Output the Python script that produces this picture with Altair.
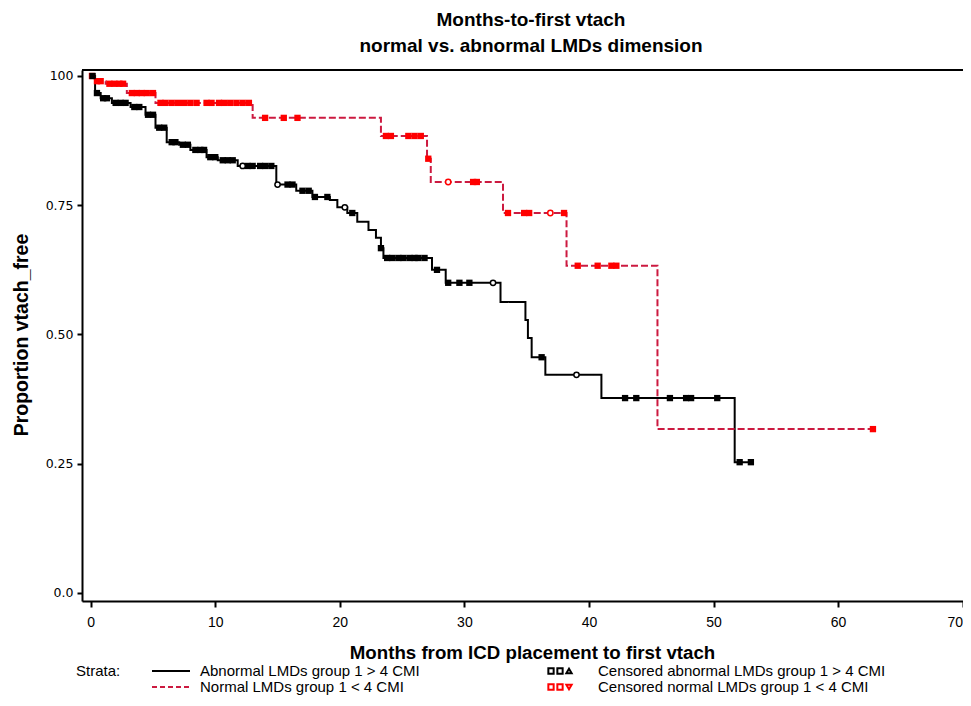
import altair as alt
import pandas as pd
import numpy as np

# ---------------- text ----------------
title_lines = ["Months-to-first vtach", "normal vs. abnormal LMDs dimension"]
x_title = "Months from ICD placement to first vtach"
y_title = "Proportion vtach_free"
x_ticks = [0, 10, 20, 30, 40, 50, 60, 70]
y_ticks = [0.0, 0.25, 0.5, 0.75, 1.0]
strata_label = "Strata:"
groups = ["Abnormal LMDs group 1 > 4 CMI", "Normal LMDs group 1 < 4 CMI"]
censor_labels = ["Censored abnormal LMDs group 1 > 4 CMI", "Censored normal LMDs group 1 < 4 CMI"]

# ---------------- Kaplan-Meier steps ----------------
abn_time = [0, 0.35, 0.8, 1.7, 3.2, 4.4, 5.2, 6.1, 7.1, 8.0, 9.3, 10.2, 11.8, 14.9, 16.5,
            17.8, 19.2, 19.8, 20.6, 21.4, 22.3, 22.9, 23.3, 23.5, 27.4, 28.5, 32.9, 34.9,
            35.1, 35.4, 36.5, 41.0, 51.7, 53.1]
abn_surv = [1.0, 0.967, 0.957, 0.948, 0.94, 0.925, 0.90, 0.872, 0.867, 0.857, 0.843, 0.837,
            0.826, 0.79, 0.778, 0.766, 0.76, 0.746, 0.735, 0.718, 0.702, 0.687, 0.667, 0.648,
            0.625, 0.60, 0.563, 0.528, 0.493, 0.456, 0.422, 0.377, 0.253, 0.253]

nor_time = [0, 0.3, 1.2, 2.9, 5.2, 13.0, 23.3, 27.0, 27.3, 33.1, 38.2, 45.5, 62.8]
nor_surv = [1.0, 0.99, 0.985, 0.967, 0.948, 0.919, 0.884, 0.84, 0.795, 0.735, 0.633, 0.317, 0.317]

# censoring times
abn_cens = [0.15, 0.5, 1.0, 1.3, 2.0, 2.4, 2.8, 3.5, 3.9, 4.6, 5.0, 5.5, 5.9, 6.5, 6.8, 7.4,
            7.8, 8.4, 8.8, 9.1, 9.6, 10.0, 10.6, 11.0, 11.4, 12.6, 13.0, 13.6, 14.0, 14.5,
            15.8, 16.2, 17.0, 17.5, 18.0, 19.0, 21.0, 23.3, 23.8, 24.2, 24.7, 25.1, 25.6,
            26.0, 26.3, 26.8, 27.8, 28.7, 29.6, 30.4, 36.2, 42.9, 43.8, 46.5, 47.8, 48.2,
            50.3, 52.1, 53.0]
abn_cens_open = [12.2, 15.0, 20.4, 32.3, 39.0]
nor_cens = [0.1, 0.5, 0.8, 1.5, 1.9, 2.3, 2.6, 3.3, 3.7, 4.1, 4.5, 5.0, 5.6, 6.0, 6.5, 7.0,
            7.5, 8.0, 8.5, 9.3, 9.7, 10.3, 10.7, 11.2, 11.7, 12.2, 12.7, 14.0, 15.5, 16.6,
            23.7, 24.1, 25.5, 26.0, 26.5, 27.1, 30.7, 31.0, 33.5, 34.8, 35.2, 38.0, 39.1,
            40.7, 41.8, 42.2, 62.8]
nor_cens_open = [28.7, 36.9]

BLACK = "#000000"
LINE_RED = "#cc1a40"
MARK_RED = "#ff0000"
SANS = "Liberation Sans, Arial, sans-serif"
WIDE = "DejaVu Sans, Verdana, sans-serif"

W, H = 881, 531


def surv_at(times, survs, ts):
    t = np.asarray(times)
    s = np.asarray(survs)
    idx = np.searchsorted(t, np.asarray(ts), side="right") - 1
    return s[idx]


lines = pd.concat([
    pd.DataFrame({"group": groups[0], "time": abn_time, "surv": abn_surv}),
    pd.DataFrame({"group": groups[1], "time": nor_time, "surv": nor_surv}),
])

def cens_df(times, st, ss):
    return pd.DataFrame({"time": times, "surv": surv_at(st, ss, times)})

abn_c = cens_df(abn_cens, abn_time, abn_surv)
abn_co = cens_df(abn_cens_open, abn_time, abn_surv)
nor_c = cens_df(nor_cens, nor_time, nor_surv)
nor_co = cens_df(nor_cens_open, nor_time, nor_surv)

xscale = alt.Scale(domain=[-0.7, 70.03], nice=False, zero=False)
yscale = alt.Scale(domain=[-0.0155, 1.0116], nice=False, zero=False)

xaxis = alt.Axis(values=x_ticks, title=x_title, grid=False,
                 labelFont=SANS, labelFontSize=14, labelColor="black", labelPadding=8,
                 tickSize=6, tickWidth=2, tickColor="black",
                 domainColor="black", domainWidth=2,
                 titleFont=SANS, titleFontSize=18.7, titleFontWeight="bold", titleColor="black",
                 titleBaseline="alphabetic", titleY=57, titleX=450)
yaxis = alt.Axis(values=y_ticks, title=y_title, grid=False,
                 labelExpr="datum.value == 1 ? '100' : (datum.value == 0 ? '0.0' : format(datum.value, '.2f'))",
                 labelFont=WIDE, labelFontSize=12.5, labelColor="black", labelPadding=4,
                 tickSize=5, tickWidth=2, tickColor="black",
                 domainColor="black", domainWidth=2,
                 titleFont=SANS, titleFontSize=19.5, titleFontWeight="bold", titleColor="black",
                 titleBaseline="alphabetic", titleX=-55, titleY=H / 2 - 1, titleAngle=270)

line_layer = alt.Chart(lines).mark_line(interpolate="step-after", strokeWidth=2).encode(
    x=alt.X("time:Q", scale=xscale, axis=xaxis),
    y=alt.Y("surv:Q", scale=yscale, axis=yaxis),
    color=alt.Color("group:N", scale=alt.Scale(domain=groups, range=[BLACK, LINE_RED]), legend=None),
    strokeDash=alt.StrokeDash("group:N", scale=alt.Scale(domain=groups, range=[[1, 0], [7, 3]]), legend=None),
)

def sq(df, color):
    return alt.Chart(df).mark_square(size=40, color=color, opacity=1).encode(
        x=alt.X("time:Q", scale=xscale), y=alt.Y("surv:Q", scale=yscale))

def oc(df, color):
    return alt.Chart(df).mark_point(shape="circle", size=28, filled=True, fill="white",
                                    stroke=color, strokeWidth=1.5, opacity=1).encode(
        x=alt.X("time:Q", scale=xscale), y=alt.Y("surv:Q", scale=yscale))

frame_top = alt.Chart(pd.DataFrame({"a": [0]})).mark_rule(color="black", strokeWidth=2).encode(
    x=alt.value(0), x2=alt.value(W), y=alt.value(0))

# ---------------- legend (drawn below the plot) ----------------
one = pd.DataFrame({"a": [0]})
ROW1, ROW2 = 601, 617

def txt(label, x, y, size=15):
    return alt.Chart(one).mark_text(align="left", baseline="middle", font=SANS,
                                    fontSize=size, color="black").encode(
        x=alt.value(x), y=alt.value(y), text=alt.value(label))

def seg(y, color, dash):
    return alt.Chart(one).mark_rule(color=color, strokeWidth=2, strokeDash=dash).encode(
        x=alt.value(70), x2=alt.value(108), y=alt.value(y))

def sym(x, y, shape, color):
    return alt.Chart(one).mark_point(shape=shape, size=28, filled=False, stroke=color,
                                     strokeWidth=2, opacity=1).encode(
        x=alt.value(x), y=alt.value(y))

legend_layers = [
    txt(strata_label, -6, ROW1),
    seg(ROW1, BLACK, [1, 0]),
    txt(groups[0], 118, ROW1),
    seg(ROW2, LINE_RED, [5, 3]),
    txt(groups[1], 118, ROW2),
    sym(469, ROW1, "square", BLACK), sym(478, ROW1, "square", BLACK), sym(487, ROW1, "triangle-up", BLACK),
    txt(censor_labels[0], 516, ROW1),
    sym(469, ROW2, "square", MARK_RED), sym(478, ROW2, "square", MARK_RED), sym(487, ROW2, "triangle-down", MARK_RED),
    txt(censor_labels[1], 516, ROW2),
]

chart = alt.layer(
    line_layer,
    sq(nor_c, MARK_RED), oc(nor_co, MARK_RED),
    sq(abn_c, BLACK), oc(abn_co, BLACK),
    frame_top,
    *legend_layers,
).properties(
    width=W, height=H,
    title=alt.TitleParams(text=title_lines, font=SANS, fontSize=19, fontWeight="bold",
                          color="black", anchor="middle", offset=13.5, lineHeight=25.5, dx=8.5),
    autosize=alt.AutoSizeParams(type="none"),
    padding={"left": 74, "top": 62, "right": 0, "bottom": 97},
).configure_view(stroke=None).configure(background="white")

chart.save("out.html", embed_options={"renderer": "svg", "actions": False})
